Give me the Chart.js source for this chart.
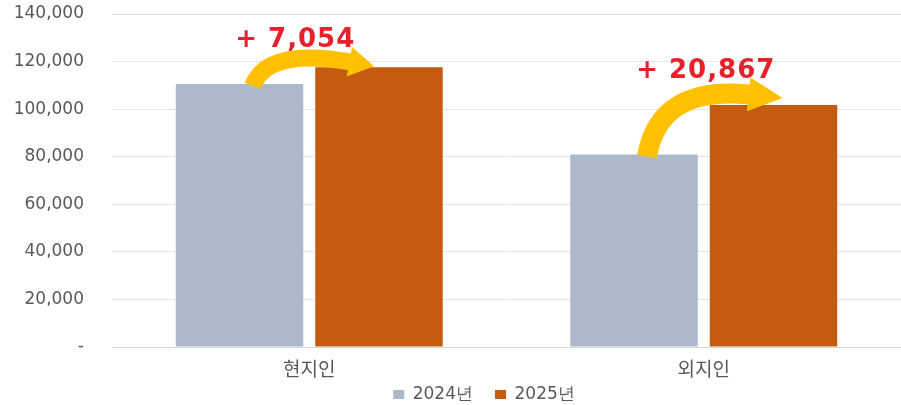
<!DOCTYPE html>
<html>
<head>
<meta charset="utf-8">
<script src="https://cdn.jsdelivr.net/npm/chart.js@4/dist/chart.umd.min.js"></script>
<style>
  html, body { margin: 0; padding: 0; background: #fff; }
  #wrap { width: 901px; height: 405px; position: relative; }
</style>
</head>
<body>
<div id="wrap"><canvas id="chart"></canvas></div>
<script>
// 현지인 / 외지인 comparison, 2024 vs 2025
const categories = ['현지인', '외지인'];
const seriesNames = ['2024년', '2025년'];
const values2024 = [110600, 80900];
const values2025 = [117654, 101767];
const increases = ['+ 7,054', '+ 20,867'];

const colors = ['#ADB9CA', '#C55A11'];
const arrowColor = '#FFC000';
const labelColor = '#E8202A';
const textGray = '#595959';

// draws the yellow curved arrow and the red increase label over each group
const arrowPlugin = {
    id: 'arrows',
    afterLayout(chart) {
        // legend sits a bit right of centre and tight under the axis labels
        chart.legend.left += 32;
        chart.legend.right += 32;
        chart.legend.top -= 17;
        chart.legend.bottom -= 17;
    },
    afterDatasetsDraw(chart) {
        const ctx = chart.ctx;
        const m1 = chart.getDatasetMeta(0).data;
        const m2 = chart.getDatasetMeta(1).data;
        categories.forEach((c, i) => {
            const b1 = m1[i], b2 = m2[i];
            const big = i === 1;
            const tail = { x: b1.x + 13, y: b1.y + 2 };
            const tip = { x: b2.x + (big ? 9 : -5), y: b2.y - (big ? 7 : 1) };
            const ctrl = { x: tail.x + (big ? 12 : 15), y: b2.y - 20 };
            const dx = tip.x - ctrl.x, dy = tip.y - ctrl.y;
            const len = Math.sqrt(dx * dx + dy * dy);
            const ux = dx / len, uy = dy / len;
            const headLen = big ? 34 : 25, headHalf = big ? 17 : 15;
            const base = { x: tip.x - ux * headLen, y: tip.y - uy * headLen };

            ctx.save();
            ctx.strokeStyle = arrowColor;
            ctx.fillStyle = arrowColor;
            ctx.lineWidth = big ? 20 : 17;
            ctx.lineCap = 'butt';
            ctx.beginPath();
            ctx.moveTo(tail.x, tail.y);
            ctx.quadraticCurveTo(ctrl.x, ctrl.y, base.x + ux * 2, base.y + uy * 2);
            ctx.stroke();
            ctx.beginPath();
            ctx.moveTo(tip.x, tip.y);
            ctx.lineTo(base.x - uy * headHalf, base.y + ux * headHalf);
            ctx.lineTo(base.x + uy * headHalf, base.y - ux * headHalf);
            ctx.closePath();
            ctx.fill();

            // increase label
            const cx = (b1.x + b2.x) / 2 + (big ? 2 : -14);
            ctx.font = 'bold 26px "DejaVu Sans", sans-serif';
            ctx.letterSpacing = '1px';
            ctx.fillStyle = labelColor;
            ctx.textAlign = 'center';
            ctx.textBaseline = 'middle';
            ctx.fillText(increases[i], cx, b2.y - (big ? 34 : 27));
            ctx.restore();
        });
    }
};

const ctx = document.getElementById('chart').getContext('2d');
new Chart(ctx, {
    type: 'bar',
    data: {
        labels: categories,
        datasets: [
            { label: seriesNames[0], data: values2024, backgroundColor: colors[0] },
            { label: seriesNames[1], data: values2025, backgroundColor: colors[1] }
        ]
    },
    options: {
        responsive: true,
        maintainAspectRatio: false,
        animation: false,
        categoryPercentage: 0.707,
        barPercentage: 0.914,
        layout: { padding: { top: 0, right: -3, bottom: -25, left: 0 } },
        plugins: {
            legend: {
                position: 'bottom',
                labels: {
                    boxWidth: 11,
                    boxHeight: 9,
                    padding: 22,
                    color: textGray,
                    font: { family: '"DejaVu Sans", sans-serif', size: 17 }
                }
            },
            tooltip: { enabled: false }
        },
        scales: {
            x: {
                afterFit(axis) { axis.height = 34; },
                grid: { display: false },
                border: { color: '#D9D9D9' },
                ticks: {
                    color: textGray,
                    padding: 2,
                    font: { family: '"Noto Sans CJK KR", sans-serif', size: 19 }
                }
            },
            y: {
                min: 0,
                max: 140000,
                afterFit(axis) {
                    axis.width = 112;
                    axis.paddingTop = 14;
                    axis.paddingBottom = 0;
                },
                border: { display: false },
                grid: { color: '#E4E4E4', drawTicks: false },
                ticks: {
                    stepSize: 20000,
                    color: textGray,
                    padding: 28,
                    font: { family: '"DejaVu Sans", sans-serif', size: 17 },
                    callback: v => v === 0 ? '-' : v.toLocaleString('en-US')
                }
            }
        }
    },
    plugins: [arrowPlugin]
});
</script>
</body>
</html>
